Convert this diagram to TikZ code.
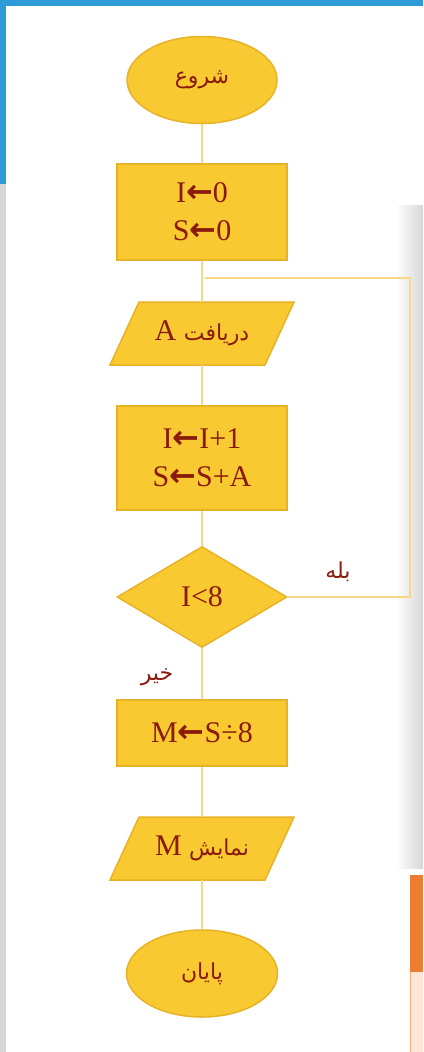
\documentclass[tikz,border=0pt]{standalone}
\usepackage{fontspec}
\setmainfont{Liberation Serif}
\newfontfamily\arabicfont[Script=Arabic]{DejaVu Sans}
\newfontfamily\arrowfont{DejaVu Sans}
\TeXXeTstate=1
\usetikzlibrary{shapes.geometric,calc}
\pgfdeclarelayer{back}
\pgfdeclarelayer{bg}
\pgfsetlayers{back,bg,main}
\definecolor{boxfill}{HTML}{F8C931}
\definecolor{boxedge}{HTML}{E8B226}
\definecolor{txtred}{HTML}{8A1A0C}
\definecolor{linecol}{HTML}{F8D68A}
\definecolor{winblue}{HTML}{2E9BD6}
\definecolor{wingray}{HTML}{D6D6D6}
\definecolor{winorange}{HTML}{ED7D31}
\definecolor{winpink}{HTML}{FCE4D6}
\newcommand{\arr}{{\arrowfont\bfseries\fontsize{32}{32}\selectfont ←}}
\newcommand{\fa}{\arabicfont\fontsize{22}{26}\selectfont}
\tikzset{
  shapefill/.style={fill=boxfill, draw=boxedge, line width=1.5pt},
  term/.style={ellipse, shapefill, minimum width=150pt, minimum height=87pt, inner sep=0pt, text=txtred},
  proc/.style={rectangle, shapefill, minimum width=170pt, inner sep=0pt, align=center, text=txtred,
    font=\fontsize{30}{38}\selectfont},
  iobox/.style={rectangle, minimum width=155pt, minimum height=63pt, inner sep=0pt, text=txtred,
    font=\fontsize{30}{38}\selectfont},
  decide/.style={diamond, shapefill, minimum width=170pt, minimum height=101pt, inner sep=0pt, text=txtred,
    font=\fontsize{30}{38}\selectfont},
  conn/.style={draw=linecol, line width=2pt},
  lbl/.style={text=txtred, inner sep=0pt}
}
\begin{document}
\begin{tikzpicture}[x=1pt, y=-1pt]
\useasboundingbox (0,0) rectangle (423,1052);
\begin{pgfonlayer}{back}
\fill[white] (0,0) rectangle (423,1052);
\shade[left color=white, right color=wingray] (396,205) rectangle (423,868);
\fill[winblue] (0,0) rectangle (423,6);
\fill[winblue] (0,0) rectangle (6,184);
\fill[wingray] (0,184) rectangle (6,1052);
\fill[winorange] (410,875) rectangle (423,972);
\fill[winpink] (410,972) rectangle (423,1052);
\draw[winorange!60, line width=1pt] (410.5,972) -- (410.5,1052);
\end{pgfonlayer}

% nodes
\node[term] (start) at (202,80) {\fa\beginR شروع\endR};
\node[proc, minimum height=96pt] (init) at (202,212) {I\arr0\\S\arr0};
\node[iobox] (in) at (202,333.5) {\beginR{\fa دریافت} A\endR};
\node[proc, minimum height=104pt] (upd) at (202,458) {I\arr I+1\\S\arr S+A};
\node[decide] (cond) at (202,597) {I<8};
\node[proc, minimum height=66pt] (mean) at (202,733) {M\arr S÷8};
\node[iobox] (out) at (202,848.5) {\beginR{\fa نمایش} M\endR};
\node[term, minimum width=151pt] (stop) at (202,973.5) {\fa\beginR پایان\endR};

\begin{pgfonlayer}{bg}
  \foreach \n in {in,out}{
    \path[shapefill] ($(\n.center)+(-92,31.5)$) -- ($(\n.center)+(63,31.5)$)
      -- ($(\n.center)+(92,-31.5)$) -- ($(\n.center)+(-63,-31.5)$) -- cycle;
  }
  \draw[conn] (start.south) -- (init.north);
  \draw[conn] (init.south) -- (in.north);
  \draw[conn] (in.south) -- (upd.north);
  \draw[conn] (upd.south) -- (cond.north);
  \draw[conn] (cond.south) -- (mean.north);
  \draw[conn] (mean.south) -- (out.north);
  \draw[conn] (out.south) -- (stop.north);
  \coordinate (join) at (205,278);
  \coordinate (rx) at (410,0);
  \draw[conn] (cond.east) -- (cond.east -| rx) -- (join -| rx) -- (join);
\end{pgfonlayer}

\node[lbl] (yes) at (338,572) {\arabicfont\fontsize{22}{24}\selectfont\beginR بله\endR};
\node[lbl] (no) at (157,677) {\arabicfont\fontsize{22}{24}\selectfont\beginR خیر\endR};
\end{tikzpicture}
\end{document}
